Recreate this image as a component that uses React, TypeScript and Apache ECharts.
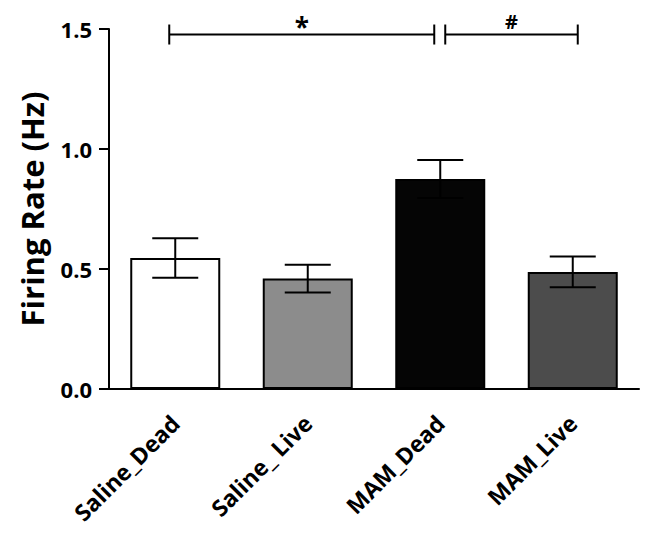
import React, { useEffect, useRef } from "react";
import * as echarts from "echarts";

const categories = ["Saline_Dead", "Saline_ Live", "MAM_Dead", "MAM_Live"];
const means = [0.546, 0.46, 0.875, 0.488];
const sems = [0.082, 0.058, 0.079, 0.064];
const barColors = ["#ffffff", "#8c8c8c", "#050505", "#4c4c4c"];
const yTicks = [0, 0.5, 1.0, 1.5];
const sigStart = [0, 2];
const sigEnd = [2, 3];
const sigLevel = [1.477, 1.477];
const sigLabels = ["*", "#"];

const FONT = "Open Sans";

export default function App() {
  const ref = useRef<HTMLDivElement>(null);
  useEffect(() => {
    if (!ref.current) return;
    const chart = echarts.init(ref.current, null, { renderer: "svg" });
    const errData = means.map((m, i) => [i, m - sems[i], m + sems[i]]);
    const sigData = sigStart.map((s, i) => [s, sigEnd[i], sigLevel[i], i]);
    const sigOffsets = [[-6, -6], [5, 5]];
    chart.setOption({
      animation: false,
      backgroundColor: "#ffffff",
      grid: { left: 91, top: 21, width: 540, height: 360 },
      xAxis: {
        type: "category",
        data: categories,
        axisLine: { lineStyle: { color: "#000", width: 2 } },
        axisTick: { alignWithLabel: true, length: 9, lineStyle: { color: "#000", width: 2 } },
        axisLabel: {
          rotate: 45,
          margin: 30,
          interval: 0,
          color: "#000",
          fontFamily: FONT,
          fontWeight: "bold",
          fontSize: 23,
        },
      },
      yAxis: {
        type: "value",
        min: 0,
        max: 1.5,
        interval: 0.5,
        name: "Firing Rate (Hz)",
        nameLocation: "middle",
        nameGap: 62,
        nameTextStyle: { color: "#000", fontFamily: FONT, fontWeight: "bold", fontSize: 31 },
        axisLine: { show: true, lineStyle: { color: "#000", width: 2 } },
        axisTick: { show: true, length: 10, lineStyle: { color: "#000", width: 2 } },
        splitLine: { show: false },
        axisLabel: {
          color: "#000",
          fontFamily: FONT,
          fontWeight: "bold",
          fontSize: 22,
          margin: 17,
          formatter: (v: number) => (yTicks.includes(v) ? v.toFixed(1) : ""),
        },
      },
      series: [
        {
          type: "bar",
          data: means.map((m, i) => ({
            value: m,
            itemStyle: { color: barColors[i], borderColor: "#000", borderWidth: 2 },
          })),
          barWidth: 90,
        },
        {
          type: "custom",
          data: errData,
          z: 5,
          renderItem: (params: any, api: any) => {
            const x = api.value(0);
            const lo = api.coord([x, api.value(1)]);
            const hi = api.coord([x, api.value(2)]);
            const w = 23;
            const st = { stroke: "#000", lineWidth: 2 };
            return {
              type: "group",
              children: [
                { type: "line", shape: { x1: lo[0], y1: lo[1], x2: hi[0], y2: hi[1] }, style: st },
                { type: "line", shape: { x1: hi[0] - w, y1: hi[1], x2: hi[0] + w, y2: hi[1] }, style: st },
                { type: "line", shape: { x1: lo[0] - w, y1: lo[1], x2: lo[0] + w, y2: lo[1] }, style: st },
              ],
            };
          },
        },
        {
          type: "custom",
          data: sigData,
          z: 5,
          clip: false,
          renderItem: (params: any, api: any) => {
            const idx = api.value(3);
            const a = api.coord([api.value(0), api.value(2)]);
            const b = api.coord([api.value(1), api.value(2)]);
            const off = sigOffsets[idx];
            const x1 = a[0] + off[0];
            const x2 = b[0] + off[1];
            const y = a[1];
            const st = { stroke: "#000", lineWidth: 2 };
            return {
              type: "group",
              children: [
                { type: "line", shape: { x1, y1: y, x2, y2: y }, style: st },
                { type: "line", shape: { x1, y1: y - 10, x2: x1, y2: y + 10 }, style: st },
                { type: "line", shape: { x1: x2, y1: y - 10, x2, y2: y + 10 }, style: st },
                {
                  type: "text",
                  style: {
                    text: sigLabels[idx],
                    x: (x1 + x2) / 2,
                    y: idx === 0 ? y - 8 : y - 13,
                    align: "center",
                    verticalAlign: "middle",
                    fill: "#000",
                    font: idx === 0 ? "bold 26px Open Sans" : "bold 20px Open Sans",
                  },
                },
              ],
            };
          },
        },
      ],
    });
    return () => chart.dispose();
  }, []);
  return <div ref={ref} style={{ width: 639, height: 519 }} />;
}
